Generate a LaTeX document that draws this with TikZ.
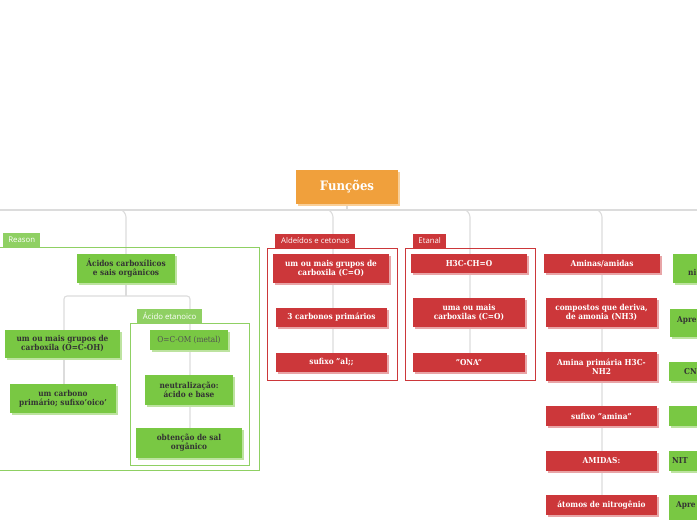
\documentclass[tikz,border=0pt]{standalone}
\usepackage{fontspec}
\setmainfont{DejaVu Serif Condensed}
\newfontfamily\tabfont{Open Sans}
\usetikzlibrary{shadows}
\definecolor{orng}{HTML}{F0A03C}
\definecolor{orngsh}{HTML}{F9CF98}
\definecolor{grn}{HTML}{79C843}
\definecolor{grnsh}{HTML}{BDE3A0}
\definecolor{grnframe}{HTML}{8FD063}
\definecolor{rd}{HTML}{CC373A}
\definecolor{rdsh}{HTML}{E8A5A7}
\definecolor{connc}{HTML}{DCDCDC}
\definecolor{dark}{HTML}{333333}
\begin{document}
\begin{tikzpicture}[x=1pt,y=-1pt,
  box/.style={rectangle, inner sep=1pt, align=center, font=\bfseries\fontsize{8.2}{9}\selectfont},
  gbox/.style={box, fill=grn, text=dark, general shadow={fill=grnsh, shadow xshift=1.6pt, shadow yshift=-1.6pt}},
  rbox/.style={box, fill=rd, text=white, general shadow={fill=rdsh, shadow xshift=1.6pt, shadow yshift=-1.6pt}},
  conn/.style={draw=connc, line width=1.1pt, rounded corners=3pt},
  gframe/.style={draw=grnframe, line width=0.9pt},
  rframe/.style={draw=rd, line width=0.9pt},
  tabst/.style={rectangle, anchor=south west, inner sep=2pt, minimum height=14pt, text=white, font=\tabfont\fontsize{7.8}{8}\selectfont},
  gtab/.style={tabst, fill=grnframe},
  rtab/.style={tabst, fill=rd}
]
\useasboundingbox (0,0) rectangle (697,520);
\clip (0,0) rectangle (697,520);

% ---- connectors
\coordinate (busL) at (0,210);
\coordinate (busR) at (697,210);
\coordinate (fork) at (126,296);
\draw[conn] (busL) -- (busR);
\draw[conn] (347,204) -- (347,210);
\draw[conn] (122,210) -- (126,214) -- (126,254);
\draw[conn] (329,210) -- (333,214) -- (333,372);
\draw[conn] (466,210) -- (470,214) -- (470,372);
\draw[conn] (598,210) -- (602,214) -- (602,505);
\draw[conn] (126,283) -- (126,296);
\draw[conn] (64,358) -- (64,296) -- (190,296) -- (190,443);
\draw[conn] (64,358) -- (64,384);

% ---- top node
\node[rectangle, fill=orng, text=white, minimum width=102pt, minimum height=34pt,
  font=\bfseries\fontsize{13}{15}\selectfont,
  general shadow={fill=orngsh, shadow xshift=2pt, shadow yshift=-2pt}] (fun) at (347,187) {Funções};

% ---- Reason group
\draw[gframe] (-3,247) rectangle (259,470);
\node[gtab, minimum width=37pt] (tabR) at (3,247) {Reason};
\node[gbox, minimum width=98pt, minimum height=29pt] (ac) at (126,268.5) {Ácidos carboxílicos\\e sais orgânicos};
\node[gbox, minimum width=115pt, minimum height=28pt] (g1) at (62.5,344) {um ou mais grupos de\\carboxila (O=C-OH)};
\node[gbox, minimum width=106pt, minimum height=29pt] (g2) at (63,398.5) {um carbono\\primário; sufixo'oico'};

% Ácido etanoico group
\draw[gframe] (130,323) rectangle (249,465);
\node[gtab, minimum width=65pt] (tabA) at (137,323) {Ácido etanoico};
\node[gbox, minimum width=78pt, minimum height=20pt, font=\fontsize{8.2}{9}\selectfont, text=dark!85] (g3) at (189,340) {O=C-OM (metal)};
\node[gbox, minimum width=88pt, minimum height=30pt] (g4) at (189,390) {neutralização:\\ácido e base};
\node[gbox, minimum width=106pt, minimum height=30pt] (g5) at (189,443) {obtenção de sal\\orgânico};

% ---- Aldeídos e cetonas group
\draw[rframe] (267,248) rectangle (397,380);
\node[rtab, minimum width=80pt] (tabAl) at (275,248) {Aldeídos e cetonas};
\node[rbox, minimum width=116pt, minimum height=29pt] (r1) at (331,268.5) {um ou mais grupos de\\carboxila (C=O)};
\node[rbox, minimum width=111pt, minimum height=19pt] (r2) at (331.5,317.5) {3 carbonos primários};
\node[rbox, minimum width=111pt, minimum height=19pt] (r3) at (331.5,362.5) {sufixo "al;;};

% ---- Etanal group
\draw[rframe] (405,248) rectangle (535,380);
\node[rtab, minimum width=33pt] (tabE) at (413,248) {Etanal};
\node[rbox, minimum width=116pt, minimum height=19pt] (e1) at (469,263.5) {H3C-CH=O};
\node[rbox, minimum width=112pt, minimum height=29pt] (e2) at (469,312.5) {uma ou mais\\carboxilas (C=O)};
\node[rbox, minimum width=112pt, minimum height=19pt] (e3) at (469,362.5) {"ONA"};

% ---- Aminas column
\node[rbox, minimum width=116pt, minimum height=19pt] (a1) at (602,263.5) {Aminas/amidas};
\node[rbox, minimum width=111pt, minimum height=29pt] (a2) at (601.5,312.5) {compostos que deriva,\\de amonia (NH3)};
\node[rbox, minimum width=111pt, minimum height=29pt] (a3) at (601.5,366.5) {Amina primária H3C-\\NH2};
\node[rbox, minimum width=111pt, minimum height=20pt] (a4) at (601.5,416) {sufixo "amina"};
\node[rbox, minimum width=111pt, minimum height=20pt] (a5) at (601.5,461) {AMIDAS:};
\node[rbox, minimum width=111pt, minimum height=20pt] (a6) at (601.5,505) {átomos de nitrogênio};

% ---- right green column (cut by the edge)
\node[gbox, anchor=north west, minimum width=100pt, minimum height=29pt] (b1) at (673,254) {};
\node[gbox, anchor=north west, minimum width=100pt, minimum height=28pt] (b2) at (670,309) {};
\node[gbox, anchor=north west, minimum width=100pt, minimum height=19pt] (b3) at (669,362) {};
\node[gbox, anchor=north west, minimum width=100pt, minimum height=20pt] (b4) at (669,406) {};
\node[gbox, anchor=north west, minimum width=100pt, minimum height=20pt] (b5) at (669,451) {};
\node[gbox, anchor=north west, minimum width=100pt, minimum height=30pt] (b6) at (669,495) {};
\node[box, anchor=west, text=dark, inner sep=0pt] (t1) at (688,272) {ni};
\node[box, anchor=west, text=dark, inner sep=0pt] (t2) at (677,320) {Apre};
\node[box, anchor=west, text=dark, inner sep=0pt] (t3) at (684,371.5) {CN};
\node[box, anchor=west, text=dark, inner sep=0pt] (t5) at (672,461) {NIT};
\node[box, anchor=west, text=dark, inner sep=0pt] (t6) at (676,505) {Apre};
\end{tikzpicture}
\end{document}
